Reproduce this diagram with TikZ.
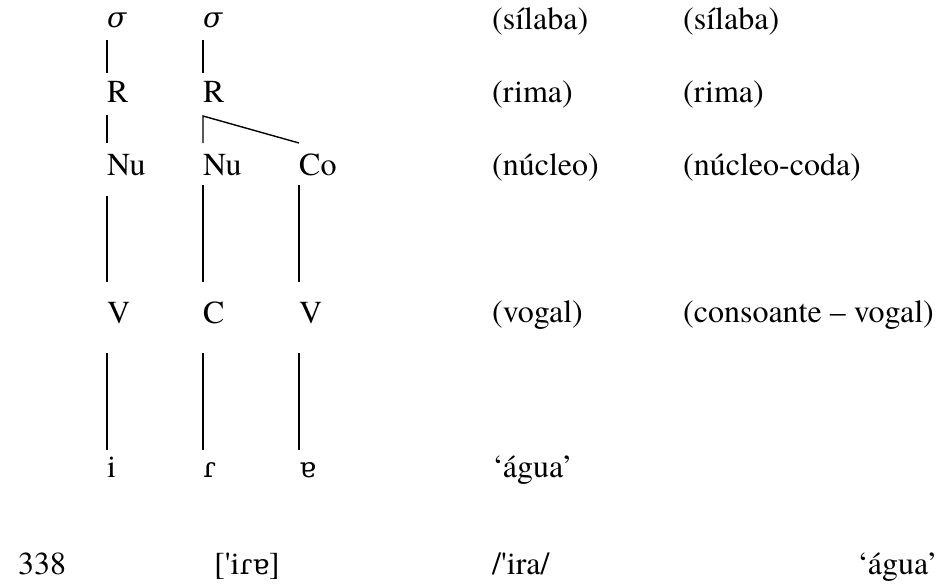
\documentclass[tikz,border=0pt]{standalone}
\usepackage{fontspec}
\setmainfont{texgyretermes}[Extension=.otf,UprightFont=*-regular,ItalicFont=*-italic,BoldFont=*-bold,BoldItalicFont=*-bolditalic]
\newfontfamily\ipa{DejaVu Serif}[Scale=0.88]
\usetikzlibrary{calc}
\begin{document}
\begin{tikzpicture}[x=1pt,y=-1pt,
  txt/.style={anchor=base west,inner sep=0pt,font=\rmfamily\fontsize{32}{38}\selectfont},
  link/.style={line width=1.4pt,line cap=butt}]
\useasboundingbox (0,0) rectangle (938,584);
% tree nodes
\node[txt] (s1) at (107,27) {{\ipa\itshape σ}};
\node[txt] (s2) at (203,27) {{\ipa\itshape σ}};
\node[txt] (r1) at (107,102) {R};
\node[txt] (r2) at (203,102) {R};
\node[txt] (n1) at (107,175) {Nu};
\node[txt] (n2) at (203,175) {Nu};
\node[txt] (co) at (299,175) {Co};
\node[txt] (v1) at (107,323) {V};
\node[txt] (c2) at (203,323) {C};
\node[txt] (v3) at (299,323) {V};
\node[txt] (i1) at (107,477) {i};
\node[txt] (t2) at (203,477) {{\ipa ɾ}};
\node[txt] (a3) at (299,477) {{\ipa ɐ}};
% labels
\node[txt] (l1a) at (492,29) {(sílaba)};
\node[txt] (l1b) at (683,29) {(sílaba)};
\node[txt] (l2a) at (492,102) {(rima)};
\node[txt] (l2b) at (683,102) {(rima)};
\node[txt] (l3a) at (492,175) {(núcleo)};
\node[txt] (l3b) at (683,175) {(núcleo-coda)};
\node[txt] (l4a) at (492,322) {(vogal)};
\node[txt] (l4b) at (683,322) {(consoante – vogal)};
\node[txt] (l5a) at (492,477) {‘água’};
% bottom row
\node[txt] (b1) at (18,574) {338};
\node[txt] (b2) at (214,574) {[\textquotesingle i{\ipa ɾɐ}]};
\node[txt] (b3) at (492,574) {/\textquotesingle ira/};
\node[txt] (b4) at (857,574) {‘água’};
% connectors
\draw[link] ($(s1.base west)+(0,13)$) -- ($(r1.base west)+(0,-29)$);
\draw[link] ($(s2.base west)+(0,13)$) -- ($(r2.base west)+(0,-29)$);
\draw[link] ($(r1.base west)+(0,13)$) -- ($(n1.base west)+(0,-32)$);
\draw[link] ($(n2.base west)+(0,-32)$) -- ($(r2.base west)+(0,14)$) -- ($(co.base west)+(0,-32)$);
\draw[link] ($(n1.base west)+(0,21)$) -- ($(v1.base west)+(0,-41)$);
\draw[link] ($(n2.base west)+(0,10)$) -- ($(c2.base west)+(0,-41)$);
\draw[link] ($(co.base west)+(0,10)$) -- ($(v3.base west)+(0,-41)$);
\draw[link] ($(v1.base west)+(0,30)$) -- ($(i1.base west)+(0,-27)$);
\draw[link] ($(c2.base west)+(0,30)$) -- ($(t2.base west)+(0,-27)$);
\draw[link] ($(v3.base west)+(0,30)$) -- ($(a3.base west)+(0,-27)$);
\end{tikzpicture}
\end{document}
